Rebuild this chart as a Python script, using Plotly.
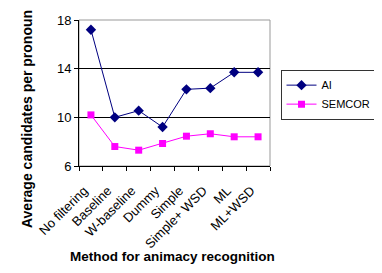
import plotly.graph_objects as go

categories = ["No filtering", "Baseline", "W-baseline", "Dummy", "Simple",
              "Simple+ WSD", "ML", "ML+WSD"]
ai_values = [17.2, 10.0, 10.55, 9.2, 12.3, 12.4, 13.7, 13.7]
semcor_values = [10.2, 7.6, 7.3, 7.85, 8.45, 8.65, 8.4, 8.4]
y_ticks = [6, 10, 14, 18]

FONT = "Liberation Sans, Arial, sans-serif"

# The page body has an 8px default margin, so the figure is drawn 8px smaller
# and offset to keep the plot area where the reference has it.
fig = go.Figure()
fig.add_trace(go.Scatter(
    x=categories, y=ai_values, name="AI", mode="lines+markers",
    line=dict(color="#000080", width=1),
    marker=dict(symbol="diamond", size=8, color="#000080"),
))
fig.add_trace(go.Scatter(
    x=categories, y=semcor_values, name="SEMCOR", mode="lines+markers",
    line=dict(color="#FF00FF", width=1),
    marker=dict(symbol="square", size=7, color="#FF00FF"),
))

fig.update_layout(
    width=374, height=265,
    margin=dict(l=71, r=112, t=12, b=107, autoexpand=False),
    paper_bgcolor="white", plot_bgcolor="white",
    font=dict(family=FONT, size=12, color="black"),
    showlegend=True,
    legend=dict(x=1.055, y=0.66, xanchor="left", yanchor="top",
                bordercolor="#333333", borderwidth=1,
                font=dict(family=FONT, size=11, color="black"),
                tracegroupgap=4, itemwidth=30),
    xaxis=dict(
        type="category", tickangle=-45, ticks="outside", tickson="boundaries",
        ticklen=4, tickcolor="black", showline=True, linecolor="black",
        mirror=False, showgrid=False, tickfont=dict(size=13),
        range=[-0.5, 7.5], automargin=False,
        ticklabelstandoff=11, ticklabelshift=-7,
    ),
    yaxis=dict(
        range=[6, 18], tickvals=y_ticks, ticks="outside", ticklen=4,
        tickcolor="black", showline=True, linecolor="black",
        showgrid=True, gridcolor="black", gridwidth=1,
        tickfont=dict(size=13), zeroline=False, automargin=False,
    ),
    annotations=[
        dict(text="<b>Average candidates per pronoun</b>", xref="paper", yref="paper",
             x=-0.275, y=0.325, xanchor="center", yanchor="middle", textangle=-90,
             showarrow=False, font=dict(size=14, family=FONT)),
        dict(text="<b>Method for animacy recognition</b>", xref="paper", yref="paper",
             x=0.49, y=-0.62, xanchor="center", yanchor="middle",
             showarrow=False, font=dict(size=13.5, family=FONT)),
    ],
    shapes=[
        dict(type="rect", xref="paper", yref="paper", x0=0, y0=0, x1=1, y1=1,
             line=dict(color="#999999", width=1), layer="below"),
    ],
)

fig.write_html("out.html")
